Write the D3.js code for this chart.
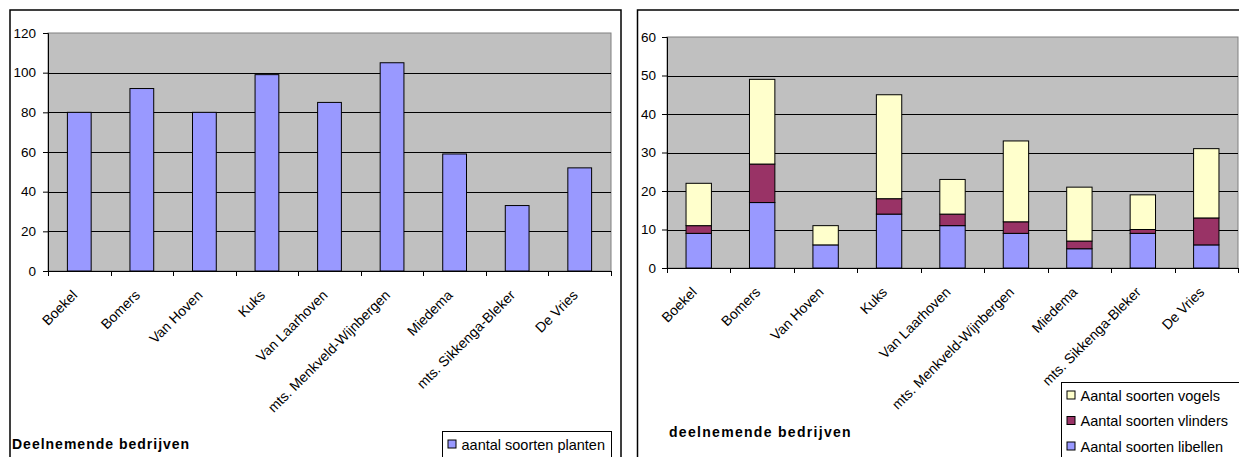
<!DOCTYPE html>
<html>
<head>
<meta charset="utf-8">
<script src="https://cdn.jsdelivr.net/npm/d3@7"></script>
<style>
  body { margin: 0; background: #fff; }
  svg text { font-family: "Liberation Sans", Arial, sans-serif; fill: #000; }
</style>
</head>
<body>
<svg id="chart" width="1239" height="457"></svg>
<script>
// data
var bedrijven = ["Boekel", "Bomers", "Van Hoven", "Kuks", "Van Laarhoven",
                 "mts. Menkveld-Wijnbergen", "Miedema", "mts. Sikkenga-Bleker", "De Vries"];
var planten = [80, 92, 80, 99, 85, 105, 59, 33, 52];
var libellen = [9, 17, 6, 14, 11, 9, 5, 9, 6];
var vlinders = [2, 10, 0, 4, 3, 3, 2, 1, 7];
var vogels = [11, 22, 5, 27, 9, 21, 14, 9, 18];
var ticksLeft = [0, 20, 40, 60, 80, 100, 120];
var ticksRight = [0, 10, 20, 30, 40, 50, 60];

var svg = d3.select("#chart");

// draws frame, plot area, grid and y axis; returns scales
function drawPanel(opt) {
    svg.append("rect")
        .attr("x", opt.frame[0]).attr("y", opt.frame[1])
        .attr("width", opt.frame[2]).attr("height", opt.frame[3])
        .attr("fill", "#fff").attr("stroke", "#000").attr("stroke-width", 1.5);

    var x = d3.scaleBand().domain(bedrijven).range([opt.left, opt.right]).padding(0);
    var y = d3.scaleLinear().domain(opt.domain).range([opt.bottom, opt.top]);

    var g = svg.append("g");
    g.append("rect")
        .attr("x", opt.left).attr("y", opt.top)
        .attr("width", opt.right - opt.left).attr("height", opt.bottom - opt.top)
        .attr("fill", "#c0c0c0").attr("stroke", "#808080");

    g.selectAll("line.grid")
        .data(opt.ticks.filter(function (d) { return d > 0 && d < opt.domain[1]; }))
        .join("line")
        .attr("x1", opt.left).attr("x2", opt.right)
        .attr("y1", function (d) { return Math.round(y(d)) + 0.5; })
        .attr("y2", function (d) { return Math.round(y(d)) + 0.5; })
        .attr("stroke", "#000");

    // y axis
    var yAxis = g.append("g")
        .attr("transform", "translate(" + opt.left + ",0)")
        .call(d3.axisLeft(y).tickValues(opt.ticks).tickSize(5).tickPadding(opt.pad));
    yAxis.selectAll("text").style("font-size", "13.5px")
        .style("font-family", "Liberation Sans, Arial, sans-serif");
    yAxis.selectAll("path, line").attr("stroke", "#000");

    return { x: x, y: y, g: g };
}

function drawXAxis(p, opt) {
    var g = p.g.append("g").attr("transform", "translate(0," + opt.bottom + ")");
    g.append("line").attr("x1", opt.left).attr("x2", opt.right)
        .attr("y1", 0.5).attr("y2", 0.5).attr("stroke", "#000");
    var bounds = bedrijven.map(function (d) { return p.x(d); }).concat([opt.right]);
    g.selectAll("line.tick").data(bounds).join("line")
        .attr("x1", function (d) { return Math.round(d) + 0.5; })
        .attr("x2", function (d) { return Math.round(d) + 0.5; })
        .attr("y1", 0).attr("y2", 5).attr("stroke", "#000");
    g.selectAll("text").data(bedrijven).join("text")
        .attr("transform", function (d) {
            return "translate(" + (p.x(d) + p.x.bandwidth() / 2 - 1) + ",25) rotate(-45)";
        })
        .attr("text-anchor", "end")
        .style("font-size", "14px")
        .text(function (d) { return d; });
}

function drawLegend(x0, y0, w, h, items) {
    svg.append("rect")
        .attr("x", x0).attr("y", y0).attr("width", w).attr("height", h)
        .attr("fill", "#fff").attr("stroke", "#000");
    items.forEach(function (it, i) {
        var cy = y0 + 13 + i * 25.5;
        svg.append("rect")
            .attr("x", x0 + 5.5).attr("y", cy - 4.5).attr("width", 8).attr("height", 8)
            .attr("fill", it.color).attr("stroke", "#000");
        svg.append("text")
            .attr("x", x0 + 19).attr("y", cy).attr("dy", "0.36em")
            .style("font-size", "14.5px")
            .text(it.label);
    });
}

// left panel: planten
var optL = { frame: [10, 10, 611, 460], left: 48, right: 611, top: 33, bottom: 271,
             domain: [0, 120], ticks: ticksLeft, pad: 7 };
var pL = drawPanel(optL);
pL.g.selectAll("rect.bar").data(planten).join("rect")
    .attr("class", "bar")
    .attr("x", function (d, i) { return pL.x(bedrijven[i]) + pL.x.bandwidth() * 0.31; })
    .attr("width", pL.x.bandwidth() * 0.38)
    .attr("y", function (d) { return pL.y(d); })
    .attr("height", function (d) { return pL.y(0) - pL.y(d); })
    .attr("fill", "#9999ff").attr("stroke", "#000");
drawXAxis(pL, optL);

svg.append("text").attr("x", 12).attr("y", 449)
    .style("font-size", "14px").style("font-weight", "bold")
    .style("letter-spacing", "1px")
    .text("Deelnemende bedrijven");
drawLegend(442.5, 431.5, 169, 40, [{ color: "#9999ff", label: "aantal soorten planten" }]);

// right panel: stacked libellen / vlinders / vogels
var optR = { frame: [637.5, 10, 620, 460], left: 667, right: 1238, top: 37, bottom: 268,
             domain: [0, 60], ticks: ticksRight, pad: 6 };
var pR = drawPanel(optR);
var rows = bedrijven.map(function (b, i) {
    return { name: b, libellen: libellen[i], vlinders: vlinders[i], vogels: vogels[i] };
});
var stack = d3.stack().keys(["libellen", "vlinders", "vogels"])(rows);
var kleuren = { libellen: "#9999ff", vlinders: "#993366", vogels: "#ffffcc" };
pR.g.selectAll("g.serie").data(stack).join("g")
    .attr("fill", function (s) { return kleuren[s.key]; })
    .selectAll("rect").data(function (s) { return s.filter(function (d) { return d[1] > d[0]; }); })
    .join("rect")
    .attr("x", function (d) { return pR.x(d.data.name) + pR.x.bandwidth() * 0.3; })
    .attr("width", pR.x.bandwidth() * 0.4)
    .attr("y", function (d) { return pR.y(d[1]); })
    .attr("height", function (d) { return pR.y(d[0]) - pR.y(d[1]); })
    .attr("stroke", "#000");
drawXAxis(pR, optR);

svg.append("text").attr("x", 669).attr("y", 437)
    .style("font-size", "14px").style("font-weight", "bold")
    .style("letter-spacing", "1.3px")
    .text("deelnemende bedrijven");
drawLegend(1061.5, 382.5, 190, 90, [
    { color: "#ffffcc", label: "Aantal soorten vogels" },
    { color: "#993366", label: "Aantal soorten vlinders" },
    { color: "#9999ff", label: "Aantal soorten libellen" }
]);
</script>
</body>
</html>
